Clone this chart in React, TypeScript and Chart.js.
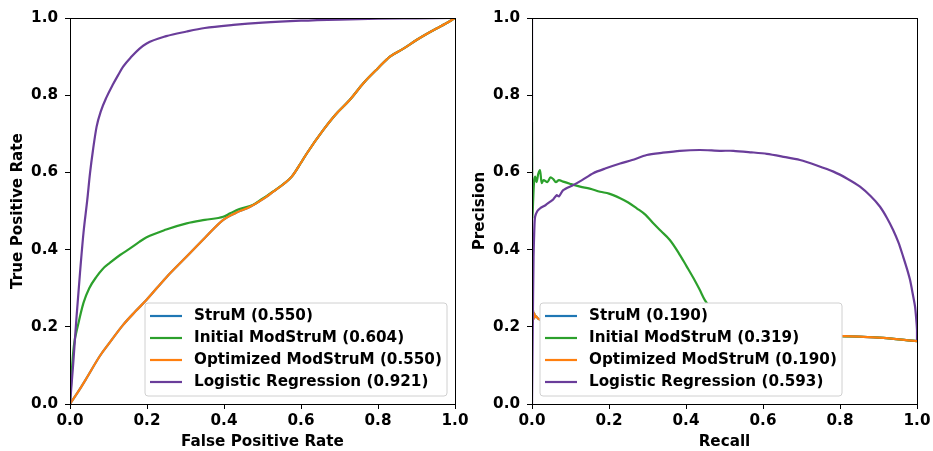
import React, { useEffect, useRef } from "react";
import { Chart, registerables } from "chart.js";

Chart.register(...registerables);

// ---------- Data ----------
const seriesLabelsROC = [
  "StruM (0.550)",
  "Initial ModStruM (0.604)",
  "Optimized ModStruM (0.550)",
  "Logistic Regression (0.921)",
];
const seriesLabelsPR = [
  "StruM (0.190)",
  "Initial ModStruM (0.319)",
  "Optimized ModStruM (0.190)",
  "Logistic Regression (0.593)",
];
const seriesColors = ["#1f77b4", "#2ca02c", "#ff7f0e", "#6a3d9a"];
const tickValues = [0, 0.2, 0.4, 0.6, 0.8, 1.0];

// ROC: StruM / Optimized ModStruM (identical curves)
const rocStrumFpr = [0, 0.02, 0.04, 0.078, 0.1, 0.138, 0.17, 0.199, 0.25, 0.303, 0.35, 0.398, 0.43, 0.468, 0.5, 0.528, 0.555, 0.576, 0.6, 0.615, 0.658, 0.69, 0.727, 0.762, 0.8, 0.831, 0.865, 0.9, 0.925, 0.952, 0.975, 1.0];
const rocStrumTpr = [0, 0.03, 0.062, 0.125, 0.155, 0.205, 0.24, 0.27, 0.328, 0.382, 0.43, 0.477, 0.495, 0.511, 0.53, 0.55, 0.57, 0.589, 0.625, 0.649, 0.71, 0.75, 0.788, 0.831, 0.87, 0.9, 0.92, 0.943, 0.958, 0.973, 0.985, 1.0];

// ROC: Initial ModStruM
const rocInitFpr = [0, 0.005, 0.01, 0.021, 0.035, 0.05, 0.069, 0.085, 0.104, 0.13, 0.156, 0.18, 0.199, 0.25, 0.303, 0.35, 0.398, 0.416, 0.44, 0.476, 0.5, 0.528, 0.555, 0.576, 0.6, 0.615, 0.658, 0.69, 0.727, 0.762, 0.8, 0.831, 0.865, 0.9, 0.925, 0.952, 0.975, 1.0];
const rocInitTpr = [0, 0.09, 0.15, 0.205, 0.262, 0.3, 0.33, 0.35, 0.366, 0.386, 0.403, 0.42, 0.432, 0.452, 0.468, 0.477, 0.485, 0.494, 0.505, 0.516, 0.532, 0.551, 0.57, 0.589, 0.625, 0.649, 0.71, 0.75, 0.788, 0.831, 0.87, 0.9, 0.92, 0.943, 0.958, 0.973, 0.985, 1.0];

// ROC: Logistic Regression
const rocLrFpr = [0, 0.008, 0.017, 0.026, 0.035, 0.045, 0.052, 0.06, 0.069, 0.08, 0.095, 0.11, 0.125, 0.138, 0.16, 0.18, 0.199, 0.25, 0.303, 0.35, 0.424, 0.5, 0.6, 0.7, 0.8, 0.9, 1.0];
const rocLrTpr = [0, 0.1, 0.226, 0.34, 0.443, 0.53, 0.598, 0.66, 0.718, 0.758, 0.795, 0.825, 0.852, 0.874, 0.9, 0.92, 0.934, 0.953, 0.965, 0.974, 0.982, 0.988, 0.993, 0.996, 0.998, 0.999, 1.0];

// PR: StruM / Optimized ModStruM
const prStrumRecall = [0, 0.001, 0.002, 0.003, 0.004, 0.006, 0.008, 0.01, 0.015, 0.03, 0.1, 0.2, 0.4, 0.6, 0.81, 0.9, 1.0];
const prStrumPrecision = [0.2, 0.24, 0.21, 0.243, 0.22, 0.235, 0.225, 0.228, 0.222, 0.215, 0.205, 0.198, 0.19, 0.183, 0.176, 0.172, 0.163];

// PR: Initial ModStruM
const prInitRecall = [0, 0.001, 0.003, 0.005, 0.008, 0.012, 0.016, 0.021, 0.025, 0.03, 0.04, 0.048, 0.055, 0.062, 0.07, 0.081, 0.1, 0.125, 0.15, 0.177, 0.2, 0.229, 0.25, 0.272, 0.295, 0.315, 0.335, 0.358, 0.38, 0.402, 0.42, 0.435, 0.449, 0.47, 0.5, 0.55, 0.6, 0.7, 0.8, 0.9, 1.0];
const prInitPrecision = [0.73, 0.48, 0.528, 0.57, 0.589, 0.575, 0.595, 0.606, 0.572, 0.58, 0.575, 0.587, 0.583, 0.575, 0.58, 0.576, 0.57, 0.563, 0.558, 0.55, 0.545, 0.533, 0.522, 0.507, 0.49, 0.468, 0.448, 0.425, 0.393, 0.356, 0.325, 0.297, 0.269, 0.24, 0.215, 0.195, 0.185, 0.18, 0.176, 0.172, 0.163];

// PR: Logistic Regression
const prLrRecall = [0, 0, 0.002, 0.004, 0.006, 0.008, 0.014, 0.021, 0.035, 0.047, 0.055, 0.064, 0.07, 0.081, 0.107, 0.13, 0.159, 0.19, 0.229, 0.26, 0.298, 0.34, 0.384, 0.436, 0.488, 0.523, 0.57, 0.61, 0.65, 0.696, 0.74, 0.783, 0.82, 0.852, 0.88, 0.904, 0.922, 0.938, 0.952, 0.964, 0.974, 0.982, 0.989, 0.995, 0.998, 1.0, 1.0];
const prLrPrecision = [1.0, 0, 0.2, 0.38, 0.45, 0.485, 0.5, 0.507, 0.515, 0.524, 0.53, 0.541, 0.538, 0.554, 0.567, 0.58, 0.598, 0.61, 0.623, 0.632, 0.645, 0.651, 0.656, 0.658, 0.656, 0.656, 0.652, 0.648, 0.641, 0.632, 0.618, 0.602, 0.583, 0.563, 0.538, 0.511, 0.482, 0.451, 0.418, 0.382, 0.35, 0.321, 0.285, 0.252, 0.22, 0.192, 0.166];

// ---------- Helpers ----------
const FONT_FAMILY = "'DejaVu Sans', sans-serif";
const FONT_SIZE = 15.2;

function pts(xs: number[], ys: number[]) {
  return xs.map((x, i) => ({ x, y: ys[i] }));
}

const mplPlugin = {
  id: "mplFrameLegend",
  afterDatasetsDraw(chart: any, _args: any, opts: any) {
    const { ctx, chartArea: ca } = chart;
    ctx.save();
    // frame (spines)
    ctx.strokeStyle = "#000";
    ctx.lineWidth = 1;
    ctx.strokeRect(ca.left + 0.5, ca.top + 0.5, ca.right - ca.left, ca.bottom - ca.top);

    // legend
    const labels: string[] = opts.labels || [];
    const colors: string[] = opts.colors || [];
    ctx.font = `bold ${FONT_SIZE}px ${FONT_FAMILY}`;
    const boxW = 302;
    const boxH = 93;
    const bottom = ca.bottom - 8;
    const top = bottom - boxH;
    const left = opts.align === "right" ? ca.right - 8 - boxW : ca.left + 8;
    const r = 3;
    ctx.beginPath();
    ctx.moveTo(left + r, top);
    ctx.lineTo(left + boxW - r, top);
    ctx.arcTo(left + boxW, top, left + boxW, top + r, r);
    ctx.lineTo(left + boxW, top + boxH - r);
    ctx.arcTo(left + boxW, top + boxH, left + boxW - r, top + boxH, r);
    ctx.lineTo(left + r, top + boxH);
    ctx.arcTo(left, top + boxH, left, top + boxH - r, r);
    ctx.lineTo(left, top + r);
    ctx.arcTo(left, top, left + r, top, r);
    ctx.closePath();
    ctx.fillStyle = "#ffffff";
    ctx.fill();
    ctx.strokeStyle = "#d0d0d0";
    ctx.lineWidth = 1;
    ctx.stroke();

    ctx.textBaseline = "middle";
    ctx.textAlign = "left";
    labels.forEach((l, i) => {
      const cy = top + 13 + i * 22;
      ctx.strokeStyle = colors[i];
      ctx.lineWidth = 2.2;
      ctx.beginPath();
      ctx.moveTo(left + 5, cy);
      ctx.lineTo(left + 37, cy);
      ctx.stroke();
      ctx.fillStyle = "#000";
      ctx.fillText(l, left + 49, cy);
    });
    ctx.restore();
  },
};

function makeAxis(title: string, isX: boolean, fixed: number, titlePad: number) {
  return {
    type: "linear",
    position: isX ? "bottom" : "left",
    min: 0,
    max: 1,
    afterBuildTicks(scale: any) {
      scale.ticks = tickValues.map((v) => ({ value: v }));
    },
    afterFit(scale: any) {
      if (isX) scale.height = fixed;
      else scale.width = fixed;
      scale.paddingLeft = 0;
      scale.paddingRight = 0;
      scale.paddingTop = 0;
      scale.paddingBottom = 0;
    },
    grid: {
      display: true,
      drawOnChartArea: false,
      drawTicks: true,
      tickLength: 5,
      tickWidth: 1,
      tickColor: "#000",
    },
    border: { display: false },
    ticks: {
      autoSkip: false,
      maxRotation: 0,
      padding: isX ? 3 : 7,
      color: "#000",
      font: { family: FONT_FAMILY, size: FONT_SIZE, weight: "bold" },
      callback: (v: any) => Number(v).toFixed(1),
    },
    title: {
      display: true,
      text: title,
      color: "#000",
      font: { family: FONT_FAMILY, size: FONT_SIZE, weight: "bold" },
      padding: isX ? { top: 0, bottom: 0 } : { top: titlePad, bottom: 0 },
    },
  };
}

function buildDatasets(labels: string[], series: { x: number; y: number }[][], smooth: boolean[]) {
  return series.map((data, i) => ({
    label: labels[i],
    data,
    borderColor: seriesColors[i],
    backgroundColor: seriesColors[i],
    borderWidth: 2.2,
    pointRadius: 0,
    pointHoverRadius: 0,
    tension: smooth[i] ? 0 : 0.25,
    cubicInterpolationMode: smooth[i] ? "monotone" : "default",
    fill: false,
    order: 4 - i,
  }));
}

function ChartCanvas(props: {
  width: number;
  height: number;
  left: number;
  config: any;
}) {
  const ref = useRef<HTMLCanvasElement | null>(null);
  useEffect(() => {
    if (!ref.current) return;
    const chart = new Chart(ref.current, props.config);
    return () => chart.destroy();
  }, []);
  return (
    <canvas
      ref={ref}
      width={props.width}
      height={props.height}
      style={{
        position: "absolute",
        left: props.left,
        top: 0,
        width: props.width,
        height: props.height,
      }}
    />
  );
}

export default function App() {
  const rocSeries = [
    pts(rocStrumFpr, rocStrumTpr),
    pts(rocInitFpr, rocInitTpr),
    pts(rocStrumFpr, rocStrumTpr),
    pts(rocLrFpr, rocLrTpr),
  ];
  const prSeries = [
    pts(prStrumRecall, prStrumPrecision),
    pts(prInitRecall, prInitPrecision),
    pts(prStrumRecall, prStrumPrecision),
    pts(prLrRecall, prLrPrecision),
  ];

  const common = (leftW: number, titlePad: number, rightPad: number, xTitle: string, yTitle: string, labels: string[], align: string) => ({
    type: "line",
    data: { datasets: [] as any[] },
    options: {
      responsive: false,
      animation: false,
      devicePixelRatio: 1,
      layout: { autoPadding: false, padding: { left: 0, top: 18, right: rightPad, bottom: 0 } },
      plugins: {
        legend: { display: false },
        tooltip: { enabled: false },
        mplFrameLegend: { labels, colors: seriesColors, align },
      },
      scales: {
        x: makeAxis(xTitle, true, 47, 0),
        y: makeAxis(yTitle, false, leftW, titlePad),
      },
    },
    plugins: [mplPlugin],
  });

  const rocConfig: any = common(70, 9, 45, "False Positive Rate", "True Positive Rate", seriesLabelsROC, "right");
  rocConfig.data.datasets = buildDatasets(seriesLabelsROC, rocSeries, [true, true, true, true]);
  const prConfig: any = common(66, 5, 16, "Recall", "Precision", seriesLabelsPR, "left");
  prConfig.data.datasets = buildDatasets(seriesLabelsPR, prSeries, [true, true, true, false]);

  return (
    <div style={{ position: "absolute", left: 0, top: 0, width: 933, height: 451, background: "#fff" }}>
      <ChartCanvas width={500} height={451} left={0} config={rocConfig} />
      <ChartCanvas width={467} height={451} left={466} config={prConfig} />
    </div>
  );
}
